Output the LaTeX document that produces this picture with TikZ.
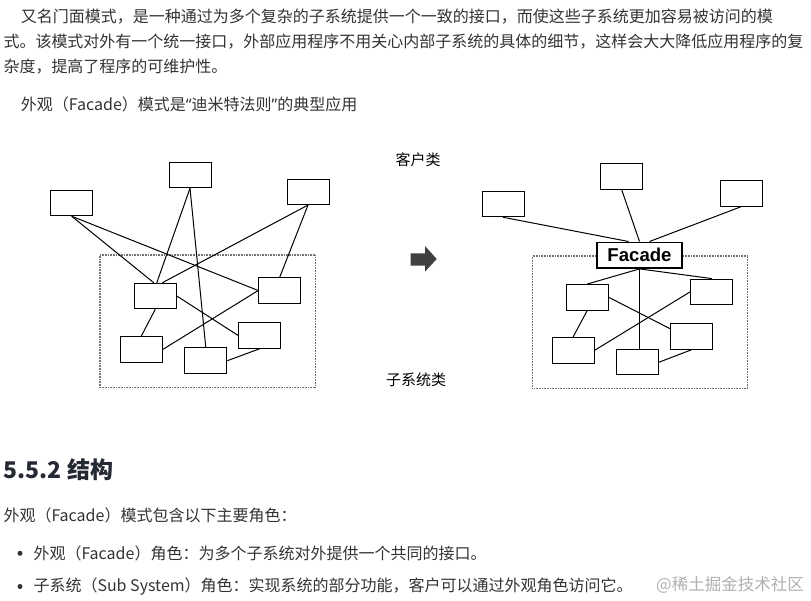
\documentclass[tikz,border=0pt]{standalone}
\usepackage{fontspec}
\newfontfamily\cjk{Noto Sans CJK SC}
\newfontfamily\latinq{Noto Sans}
\newfontfamily\facadefont{Liberation Sans}
\usepackage{tikz}
\usetikzlibrary{positioning}
\definecolor{bodytext}{RGB}{51,51,51}
\definecolor{headtext}{RGB}{37,41,51}
\definecolor{marktext}{RGB}{175,175,175}

\begin{document}
\begin{tikzpicture}[x=1pt, y=-1pt,
  box/.style={draw, line width=1pt, minimum width=42, minimum height=25.5,
              inner sep=0pt},
  link/.style={line width=1pt},
  frame/.style={draw=black!55, dash pattern=on 0.9pt off 0.7pt, line width=1.4pt,
                inner sep=0pt},
  facade/.style={draw, line width=1.7pt, fill=white, minimum width=85.6,
                 minimum height=25.7, inner sep=0pt,
                 font=\facadefont\bfseries\fontsize{18.6}{20}\selectfont},
  para/.style={anchor=west, inner sep=0pt, text=bodytext,
               font=\cjk\fontsize{16}{16}\selectfont},
  tag/.style={inner sep=0pt, font=\cjk\fontsize{15}{15}\selectfont},
  dot/.style={circle, fill=bodytext, inner sep=0pt, minimum size=5}]
  \useasboundingbox (0,0) rectangle (811,600);

  % text above
  \node[para] (p1) at (20.7,16.7) {又名门面模式，是一种通过为多个复杂的子系统提供一个一致的接口，而使这些子系统更加容易被访问的模};
  \node[para] (p2) at (3.3,41.5) {式。该模式对外有一个统一接口，外部应用程序不用关心内部子系统的具体的细节，这样会大大降低应用程序的复};
  \node[para] (p3) at (3.3,66.5) {杂度，提高了程序的可维护性。};
  \node[para] (p4) at (20.7,104) {外观（Facade）模式是{\latinq“}迪米特法则{\latinq”}的典型应用};

  % left: without facade
  \node[frame, minimum width=215.7, minimum height=132.7] (subL) at (207.9,321.4) {};
  \node[box] (A) at (71.7,203) {};
  \node[box] (B) at (190,175) {};
  \node[box] (C) at (308,191.8) {};
  \node[box] (S1) at (155.3,296) {};
  \node[box] (S2) at (279.7,290.5) {};
  \node[box] (S3) at (259.7,335.5) {};
  \node[box] (S4) at (141.2,349.5) {};
  \node[box] (S5) at (205.8,360.7) {};
  \draw[link] (A.south) -- ([xshift=-1.5pt]S1.north);
  \draw[link] (A.south) -- (S2.west);
  \draw[link] (B.south) -- ([xshift=1.5pt]S1.north);
  \draw[link] (B.south) -- (S5.north);
  \draw[link] (C.south) -- ([xshift=7pt]S1.north);
  \draw[link] (C.south) -- (S2.north);
  \draw[link] (S1.south) -- (S4.north);
  \draw[link] (S1.east) -- (S3.west);
  \draw[link] (S2.west) -- (S4.east);
  \draw[link] (S5.east) -- (S3.south);

  % middle
  \node[tag] (client) at (418,160) {客户类};
  \node[tag] (subsys) at (416,380) {子系统类};
  \fill[black!75] (410.7,253.3) -- (425,253.3) -- (425,246) -- (436.7,259)
    -- (425,271.7) -- (425,265.5) -- (410.7,265.5) -- cycle;

  % right: with facade
  \node[frame, minimum width=215, minimum height=132.7] (subR) at (639.8,322.4) {};
  \node[box] (D) at (503,204) {};
  \node[box] (E) at (621.7,176.5) {};
  \node[box] (F) at (741,193.5) {};
  \node[facade] (Fc) at (639.5,255.2) {Facade};
  \node[box] (R1) at (587.2,297.3) {};
  \node[box] (R2) at (711.7,291.8) {};
  \node[box] (R3) at (691.5,336.5) {};
  \node[box] (R4) at (573,350.4) {};
  \node[box] (R5) at (637.5,362.2) {};
  \draw[link] (D.south) -- ([xshift=-11pt]Fc.north);
  \draw[link] (E.south) -- (Fc.north);
  \draw[link] (F.south) -- ([xshift=10pt]Fc.north);
  \draw[link] (Fc.south) -- (R1.north);
  \draw[link] (Fc.south) -- (R2.north);
  \draw[link] (Fc.south) -- (Fc.south |- R5.north);
  \draw[link] (R1.south) -- (R4.north);
  \draw[link] (R1.east) -- (R3.160);
  \draw[link] (R2.west) -- (R4.east);
  \draw[link] (R5.east) -- (R3.south);

  % text below
  \node[anchor=west, inner sep=0pt, text=headtext,
        font=\cjk\bfseries\fontsize{23}{23}\selectfont] (h552) at (3.5,470) {5.5.2 结构};
  \node[para] (p5) at (3.3,515) {外观（Facade）模式包含以下主要角色：};
  \node[dot] (d1) at (20,553.3) {};
  \node[para] (b1) at (33.3,553.3) {外观（Facade）角色：为多个子系统对外提供一个共同的接口。};
  \node[dot] (d2) at (20,586.5) {};
  \node[para] (b2) at (33.3,586.5) {子系统（Sub System）角色：实现系统的部分功能，客户可以通过外观角色访问它。};
  \node[anchor=east, inner sep=0pt, text=marktext,
        font=\cjk\fontsize{16.5}{16.5}\selectfont] (mark) at (804,585) {@稀土掘金技术社区};
\end{tikzpicture}
\end{document}
